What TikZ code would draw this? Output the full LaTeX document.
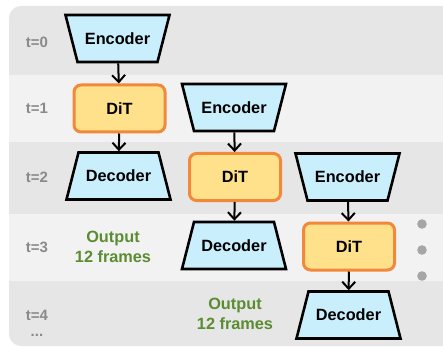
\documentclass[tikz,border=0pt]{standalone}
\usepackage{fontspec}
\setmainfont{Liberation Sans}
\usetikzlibrary{arrows.meta}

\definecolor{banddark}{HTML}{E6E6E6}
\definecolor{bandlight}{HTML}{F2F2F2}
\definecolor{encfill}{HTML}{C9EEFC}
\definecolor{ditfill}{HTML}{FFE18C}
\definecolor{ditedge}{HTML}{F2883A}
\definecolor{outgreen}{HTML}{5B8C32}
\definecolor{steplabel}{HTML}{8A8A8A}
\definecolor{dotgray}{HTML}{A6A6A6}

\tikzset{
  blocktext/.style={font=\fontsize{16.3}{19.5}\selectfont\bfseries},
  coderline/.style={draw=black, line width=2.6pt, line join=miter, fill=encfill},
  codertext/.style={blocktext, rectangle, minimum width=92pt,
    minimum height=47pt, inner sep=0pt, outer sep=1.3pt,
    text depth=-1.5pt},
  ditbox/.style={blocktext, rectangle, rounded corners=7pt,
    minimum width=91pt, minimum height=47pt, draw=ditedge,
    line width=3pt, fill=ditfill},
  flow/.style={draw=black, line width=2pt,
    -{Straight Barb[length=7pt,width=13pt,line width=2pt]}},
  steptext/.style={font=\fontsize{15}{18}\selectfont\bfseries, text=steplabel},
  outtext/.style={font=\fontsize{16.3}{19.5}\selectfont\bfseries, text=outgreen,
    align=center},
}

% trapezoid block: name, x, y, taper (+1 wide top, -1 wide bottom), label
\newcommand\codernode[5]{%
  \filldraw[coderline]
    ({#2-46-6*(#4)},{#3-23.5}) -- ({#2+46+6*(#4)},{#3-23.5}) --
    ({#2+46-6*(#4)},{#3+23.5}) -- ({#2-46+6*(#4)},{#3+23.5}) -- cycle;
  \node[codertext] (#1) at (#2,#3) {#5};%
}

\begin{document}
\begin{tikzpicture}[x=1pt, y=-1pt]
\useasboundingbox (0,0) rectangle (443,347);

% alternating time-step bands inside a rounded panel
\begin{scope}
  \clip[rounded corners=12pt] (9,6) rectangle (456,346);
  \fill[banddark]  (0,0)   rectangle (460,75);
  \fill[bandlight] (0,75)  rectangle (460,142);
  \fill[banddark]  (0,142) rectangle (460,214);
  \fill[bandlight] (0,214) rectangle (460,281);
  \fill[banddark]  (0,281) rectangle (460,350);
\end{scope}

% time-step labels
\node[steptext] (t0) at (37,42)  {t=0};
\node[steptext] (t1) at (37,108) {t=1};
\node[steptext] (t2) at (37,177) {t=2};
\node[steptext] (t3) at (37,247) {t=3};
\node[steptext] (t4) at (37,315) {t=4};
\node[steptext] (tdots) at (37,335) {...};

% first chunk
\codernode{e1}{117.5}{38.5}{1}{Encoder}
\node[ditbox] (m1) at (119.5,108.5) {DiT};
\codernode{d1}{118.5}{176}{-1}{Decoder}

% second chunk
\codernode{e2}{234}{107.5}{1}{Encoder}
\node[ditbox] (m2) at (235,177) {DiT};
\codernode{d2}{234}{245.5}{-1}{Decoder}

% third chunk
\codernode{e3}{347.5}{177}{1}{Encoder}
\node[ditbox] (m3) at (349,246.5) {DiT};
\codernode{d3}{348.5}{315}{-1}{Decoder}

\draw[flow] (e1) -- (m1);
\draw[flow] (m1) -- (d1);
\draw[flow] (e2) -- (m2);
\draw[flow] (m2) -- (d2);
\draw[flow] (e3) -- (m3);
\draw[flow] (m3) -- (d3);

% outputs
\node[outtext] (o1) at (113,247) {Output\\12 frames};
\node[outtext] (o2) at (235,314) {Output\\12 frames};

% continuation dots
\fill[dotgray] (422,224) circle (4.8pt) coordinate (c1);
\fill[dotgray] (422,250) circle (4.8pt) coordinate (c2);
\fill[dotgray] (422,276) circle (4.8pt) coordinate (c3);
\end{tikzpicture}
\end{document}
